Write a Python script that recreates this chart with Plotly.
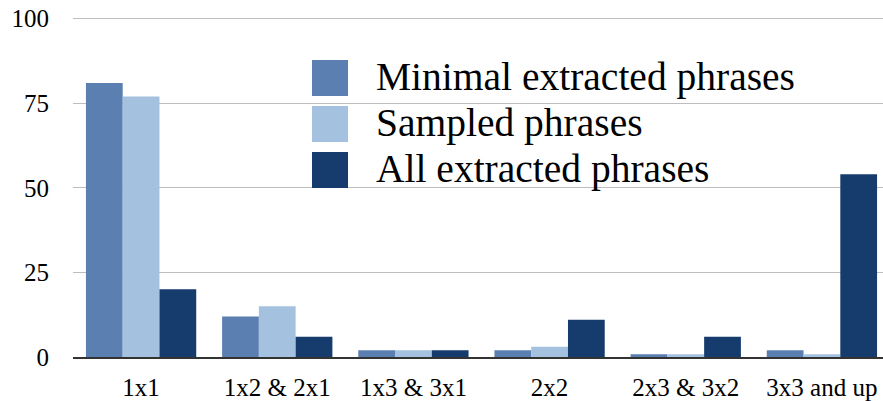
import plotly.graph_objects as go

categories = ["1x1", "1x2 & 2x1", "1x3 & 3x1", "2x2", "2x3 & 3x2", "3x3 and up"]
series_names = ["Minimal extracted phrases", "Sampled phrases", "All extracted phrases"]
minimal = [81, 12, 2, 2, 0.8, 2]
sampled = [77, 15, 2, 3, 0.8, 0.8]
all_extracted = [20, 6, 2, 11, 6, 54]
y_ticks = [0, 25, 50, 75, 100]
colors = ["#5b7fb0", "#a4c2df", "#163c6d"]

W, H = 890, 401
ML, MR, MT, MB = 73, 0, 17, 44
PW, PH = W - ML - MR, H - MT - MB

def px_x(x):
    return (x - ML) / PW

def px_y(y):
    return (H - MB - y) / PH

FONT = "Liberation Serif, Times New Roman, serif"

fig = go.Figure()
for name, vals, col in zip(series_names, [minimal, sampled, all_extracted], colors):
    fig.add_trace(go.Bar(x=categories, y=vals, name=name, marker=dict(color=col, line=dict(width=0)),
                         showlegend=False))

# manual legend (large squares + text)
shapes = []
annotations = []
for i, (name, col) in enumerate(zip(series_names, colors)):
    top = 60 + i * 46
    shapes.append(dict(type="rect", xref="paper", yref="paper",
                       x0=px_x(312), x1=px_x(348), y0=px_y(top + 36), y1=px_y(top),
                       fillcolor=col, line=dict(width=0)))
    annotations.append(dict(xref="paper", yref="paper", x=px_x(374), y=px_y(top + 17),
                            xanchor="left", yanchor="middle", text=name, showarrow=False,
                            font=dict(family=FONT, size=39.5, color="#000000")))

fig.update_layout(
    width=W, height=H,
    margin=dict(l=ML, r=MR, t=MT, b=MB, autoexpand=False),
    paper_bgcolor="white", plot_bgcolor="white",
    barmode="group", bargap=0.19, bargroupgap=0,
    shapes=shapes, annotations=annotations,
    font=dict(family=FONT, color="#000000"),
)
fig.update_xaxes(showgrid=False, showline=True, linecolor="#333333", linewidth=1.5,
                 layer="below traces", ticks="", tickfont=dict(family=FONT, size=25, color="#000000"),
                 ticklabelstandoff=7, automargin=False)
fig.update_yaxes(range=[0, 100.5], tickvals=y_ticks, showgrid=True, gridcolor="#bdbdbd", gridwidth=1,
                 zeroline=False, showline=False, ticks="", ticklabelstandoff=23,
                 tickfont=dict(family=FONT, size=25, color="#000000"), automargin=False)

fig.write_html("out.html", config={"displayModeBar": False})

with open("out.html", "r", encoding="utf-8") as f:
    html = f.read()
html = html.replace("<head>", "<head><style>html,body{margin:0;padding:0;overflow:hidden;}</style>", 1)
with open("out.html", "w", encoding="utf-8") as f:
    f.write(html)
